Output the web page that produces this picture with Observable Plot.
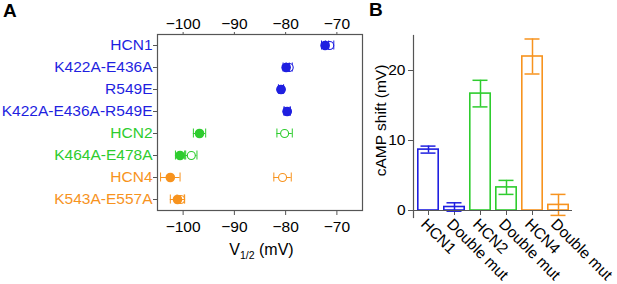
<!DOCTYPE html>
<html><head><meta charset="utf-8">
<script src="https://cdn.jsdelivr.net/npm/d3@7"></script>
<script src="https://cdn.jsdelivr.net/npm/@observablehq/plot@0.6"></script>
<style>
body{margin:0;background:#fff;font-family:"Liberation Sans",Arial,sans-serif;}
#wrap{position:relative;width:617px;height:284px;overflow:hidden;}
.panel{position:absolute;top:0;}
.lab{position:absolute;font-weight:bold;font-size:19px;line-height:1;}
</style></head><body>
<div id="wrap">
<div id="a" class="panel" style="left:0"></div>
<div id="b" class="panel" style="left:370px"></div>
<div class="lab" style="left:3px;top:1px">A</div>
<div class="lab" style="left:369px;top:0px">B</div>
</div>
<script>
// Panel A data
const constructs = ["HCN1","K422A-E436A","R549E","K422A-E436A-R549E","HCN2","K464A-E478A","HCN4","K543A-E557A"];
const family = ["HCN1","HCN1","HCN1","HCN1","HCN2","HCN2","HCN4","HCN4"];
const v12Control = [-72.3,-79.9,-80.9,-79.7,-96.8,-100.6,-102.5,-101.1];
const v12ControlErr = [0.7,0.6,0.5,0.6,1.2,0.9,1.9,1.4];
const v12cAMP = [-71.4,-79.3,-80.9,-79.7,-80.2,-98.4,-80.6,-100.5];
const v12cAMPErr = [0.8,0.6,0.5,0.6,1.5,1.1,1.7,0.7];
const xTicksA = [-100,-90,-80,-70];

// Panel B data
const barIds = ["HCN1","HCN1 mut","HCN2","HCN2 mut","HCN4","HCN4 mut"];
const barLabels = ["HCN1","Double mut","HCN2","Double mut","HCN4","Double mut"];
const barFamily = ["HCN1","HCN1","HCN2","HCN2","HCN4","HCN4"];
const shift = [8.7,0.5,16.7,3.3,22.0,0.8];
const shiftErr = [0.5,0.6,1.9,1.0,2.5,1.5];
const yTicksB = [0,10,20];

const families = ["HCN1","HCN2","HCN4"];
const colors = ["#1f1fe0","#2ecc2e","#f7931e"];

const rows = constructs.map((name,i)=>({name, fam: family[i], ctl: v12Control[i], ctlErr: v12ControlErr[i], camp: v12cAMP[i], campErr: v12cAMPErr[i]}));
const bars = barIds.map((id,i)=>({id, label: barLabels[i], fam: barFamily[i], v: shift[i], e: shiftErr[i]}));
const labelOf = Object.fromEntries(bars.map(d=>[d.id,d.label]));

const font = {fontSize:"15.5px", fontFamily:"'Liberation Sans', Arial, sans-serif", background:"white", overflow:"visible"};
const axisCol = "#555";

const WA = 370, mlA = 157, mrA = 8;
const plotA = Plot.plot({
  width: WA, height: 284,
  marginLeft: mlA, marginRight: mrA, marginTop: 34, marginBottom: 74,
  style: font,
  x: {domain: [-105,-65]},
  y: {type: "band", domain: constructs, padding: 0},
  color: {domain: families, range: colors},
  marks: [
    Plot.frame({stroke: axisCol, strokeWidth: 1.2}),
    Plot.axisX({anchor: "top", ticks: xTicksA, tickSize: 3, tickPadding: 3, label: null, stroke: axisCol, fontSize: 15.5}),
    Plot.axisX({anchor: "bottom", ticks: xTicksA, tickSize: 5, tickPadding: 5, label: null, stroke: axisCol, fontSize: 15.5}),
    Plot.axisY({tickSize: 4, tickFormat: () => "", label: null, stroke: axisCol}),
    Plot.text(rows, {y: "name", text: "name", frameAnchor: "left", dx: -5, textAnchor: "end", fill: "fam", fontSize: 15.5}),
    // cAMP (open) error bars
    Plot.ruleY(rows, {y: "name", x1: d => d.camp - d.campErr, x2: d => d.camp + d.campErr, stroke: "fam", strokeWidth: 1}),
    Plot.tickX(rows, {y: "name", x: d => d.camp - d.campErr, stroke: "fam", insetTop: 6.5, insetBottom: 6.5}),
    Plot.tickX(rows, {y: "name", x: d => d.camp + d.campErr, stroke: "fam", insetTop: 6.5, insetBottom: 6.5}),
    Plot.dot(rows, {y: "name", x: "camp", r: 4, stroke: "fam", fill: "white", strokeWidth: 1.1}),
    // control (filled) error bars
    Plot.ruleY(rows, {y: "name", x1: d => d.ctl - d.ctlErr, x2: d => d.ctl + d.ctlErr, stroke: "fam", strokeWidth: 1}),
    Plot.tickX(rows, {y: "name", x: d => d.ctl - d.ctlErr, stroke: "fam", insetTop: 6.5, insetBottom: 6.5}),
    Plot.tickX(rows, {y: "name", x: d => d.ctl + d.ctlErr, stroke: "fam", insetTop: 6.5, insetBottom: 6.5}),
    Plot.dot(rows, {y: "name", x: "ctl", r: 4.8, fill: "fam"})
  ]
});
// x-axis title with subscript
{
  const svg = d3.select(plotA);
  const t = svg.append("text")
    .attr("x", mlA + (WA - mlA - mrA) / 2 + 2)
    .attr("y", 255)
    .attr("text-anchor", "middle")
    .style("font-size", "16px")
    .attr("fill", "black");
  t.append("tspan").text("V");
  t.append("tspan").text("1/2").style("font-size", "10.5px").attr("dy", "4");
  t.append("tspan").text(" (mV)").attr("dy", "-4");
}
document.getElementById("a").append(plotA);

const plotB = Plot.plot({
  width: 247, height: 284,
  marginLeft: 43, marginRight: 45, marginTop: 35, marginBottom: 67,
  style: font,
  x: {type: "band", domain: barIds, paddingInner: 0.17, paddingOuter: 0.08},
  y: {domain: [-1,25]},
  color: {domain: families, range: colors},
  marks: [
    Plot.frame({anchor: "left", stroke: axisCol, strokeWidth: 1.2}),
    Plot.axisY({ticks: yTicksB, tickSize: 5, tickPadding: 3, stroke: axisCol, label: null, fontSize: 15.5}),
    Plot.text(["cAMP shift (mV)"], {frameAnchor: "left", dx: -32, dy: -6, rotate: -90, textAnchor: "middle", fontSize: 15.5, fill: "black"}),
    Plot.axisX({tickSize: 5, dy: -7, tickFormat: () => "", label: null, stroke: axisCol}),
    Plot.axisX({tickSize: 0, tickRotate: 45, dx: -5, dy: 1, tickPadding: 3, tickFormat: d => labelOf[d], label: null, fontSize: 15.5}),
    Plot.barY(bars, {x: "id", y1: 0, y2: "v", stroke: "fam", fill: "white", strokeWidth: 1.6, insetLeft: 0.8, insetRight: 0.8}),
    Plot.ruleX(bars, {x: "id", y1: d => d.v - d.e, y2: d => d.v + d.e, stroke: "fam", strokeWidth: 1.5}),
    Plot.tickY(bars, {x: "id", y: d => d.v - d.e, stroke: "fam", strokeWidth: 1.5, insetLeft: 3.5, insetRight: 3.5}),
    Plot.tickY(bars, {x: "id", y: d => d.v + d.e, stroke: "fam", strokeWidth: 1.5, insetLeft: 3.5, insetRight: 3.5}),
    Plot.ruleY([0], {stroke: axisCol, strokeWidth: 1.2})
  ]
});
document.getElementById("b").append(plotB);
</script>
</body></html>
